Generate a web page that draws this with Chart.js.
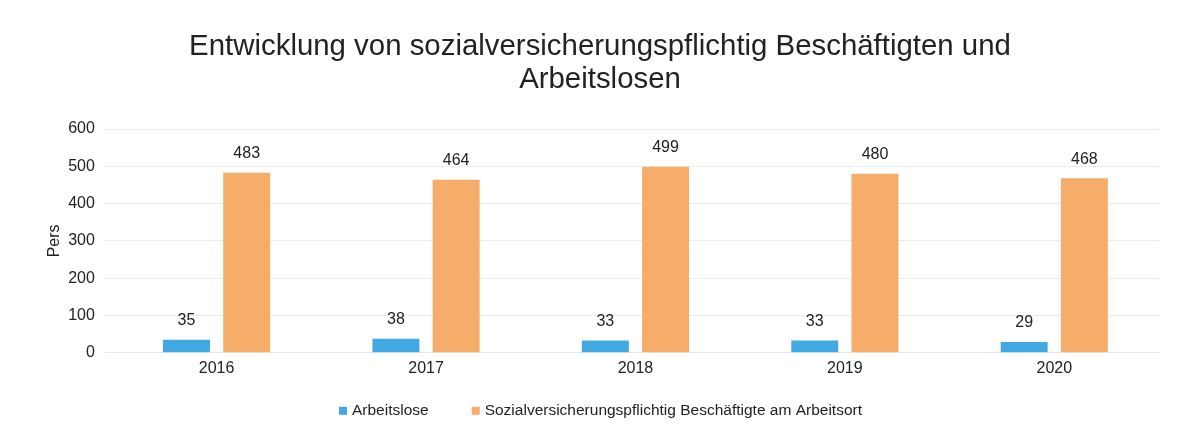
<!DOCTYPE html>
<html>
<head>
<meta charset="utf-8">
<script src="https://cdn.jsdelivr.net/npm/chart.js@4"></script>
<style>
  html, body { margin: 0; padding: 0; background: #fff; }
  #wrap { width: 1183px; height: 441px; }
</style>
</head>
<body>
<div id="wrap"><canvas id="chart"></canvas></div>
<script>
// Daten
const jahre = ['2016', '2017', '2018', '2019', '2020'];
const arbeitslose = [35, 38, 33, 33, 29];
const beschaeftigte = [483, 464, 499, 480, 468];
const yTicks = [0, 100, 200, 300, 400, 500, 600];

const schrift = '"Liberation Sans", Arial, sans-serif';

// Werte über die Balken schreiben
const wertLabels = {
    id: 'wertLabels',
    afterDatasetsDraw(chart) {
        const ctx = chart.ctx;
        ctx.save();
        ctx.font = '16px ' + schrift;
        ctx.fillStyle = '#222';
        ctx.textAlign = 'center';
        ctx.textBaseline = 'bottom';
        chart.data.datasets.forEach((ds, i) => {
            chart.getDatasetMeta(i).data.forEach((bar, j) => {
                ctx.fillText(ds.data[j], bar.x, bar.y - 11);
            });
        });
        ctx.restore();
    }
};

// eigene Legende unten (mehr Abstand zwischen den Einträgen)
const legendeUnten = {
    id: 'legendeUnten',
    afterDraw(chart) {
        const ctx = chart.ctx;
        ctx.save();
        ctx.font = '15.5px ' + schrift;
        ctx.textBaseline = 'middle';
        ctx.textAlign = 'left';
        const abstand = 43;
        const eintraege = chart.data.datasets.map(ds => ({
            text: ds.label,
            farbe: ds.backgroundColor,
            breite: 8 + 5 + ctx.measureText(ds.label).width
        }));
        const gesamt = eintraege.reduce((s, e) => s + e.breite, 0) + abstand * (eintraege.length - 1);
        let x = chart.width / 2 + 9 - gesamt / 2;
        const y = chart.chartArea.bottom + 58;
        eintraege.forEach(e => {
            ctx.fillStyle = e.farbe;
            ctx.fillRect(x, y - 4, 8, 8);
            ctx.fillStyle = '#222';
            ctx.fillText(e.text, x + 13, y);
            x += e.breite + abstand;
        });
        ctx.restore();
    }
};

const ctx = document.getElementById('chart').getContext('2d');
new Chart(ctx, {
    type: 'bar',
    data: {
        labels: jahre,
        datasets: [
            {
                label: 'Arbeitslose',
                data: arbeitslose,
                backgroundColor: '#41a9e2',
                categoryPercentage: 0.575,
                barPercentage: 0.78
            },
            {
                label: 'Sozialversicherungspflichtig Beschäftigte am Arbeitsort',
                data: beschaeftigte,
                backgroundColor: '#f5ad69',
                categoryPercentage: 0.575,
                barPercentage: 0.78
            }
        ]
    },
    options: {
        responsive: true,
        maintainAspectRatio: false,
        animation: false,
        layout: {
            padding: { left: 41, right: 24, top: 24, bottom: 57 }
        },
        plugins: {
            title: {
                display: true,
                text: ['Entwicklung von sozialversicherungspflichtig Beschäftigten und', 'Arbeitslosen'],
                color: '#222',
                font: { family: schrift, size: 29.4, weight: 'normal', lineHeight: 1.14 },
                padding: { top: 6, bottom: 32 }
            },
            legend: { display: false },
            tooltip: { enabled: false }
        },
        scales: {
            x: {
                grid: { display: false, drawTicks: false },
                border: { color: '#e6e6e6' },
                ticks: {
                    color: '#222',
                    padding: 6,
                    font: { family: schrift, size: 16 }
                }
            },
            y: {
                min: yTicks[0],
                max: yTicks[yTicks.length - 1],
                afterBuildTicks(axis) {
                    axis.ticks = yTicks.map(v => ({ value: v }));
                },
                afterFit(scale) {
                    scale.width -= 9;
                },
                grid: { color: '#ececec' },
                border: { display: false },
                title: {
                    display: true,
                    text: 'Pers',
                    color: '#222',
                    font: { family: schrift, size: 16 }
                },
                ticks: {
                    color: '#222',
                    padding: 9,
                    font: { family: schrift, size: 16 }
                }
            }
        }
    },
    plugins: [wertLabels, legendeUnten]
});
</script>
</body>
</html>
